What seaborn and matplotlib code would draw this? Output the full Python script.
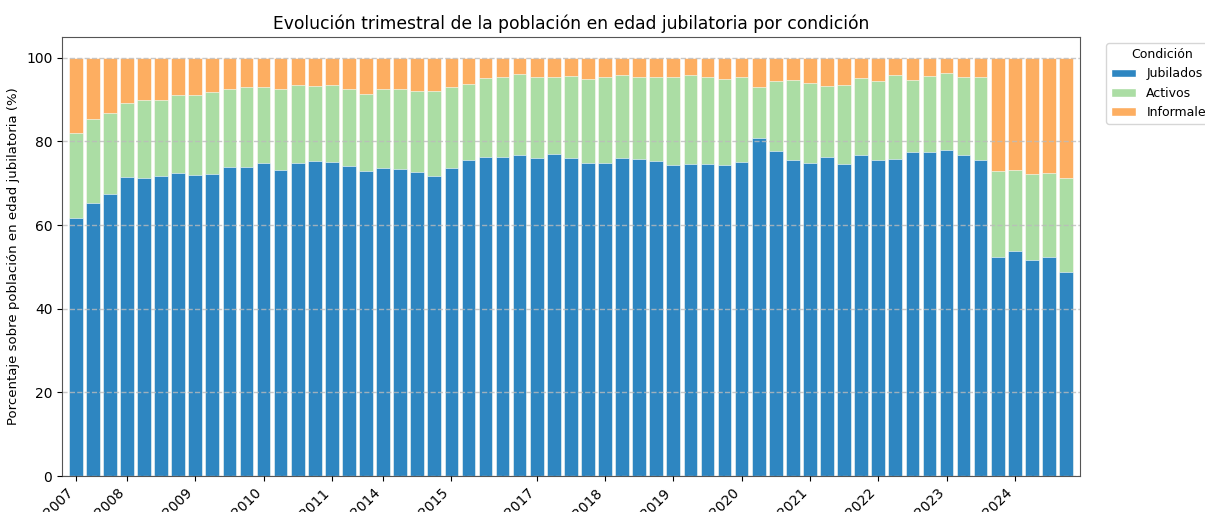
import numpy as np
import pandas as pd
import seaborn as sns
import matplotlib.pyplot as plt
from matplotlib.patches import Patch

# Periodos (un trimestre por barra)
anios = ([2007] * 3 + [2008] * 4 + [2009] * 4 + [2010] * 4 + [2011] * 3 +
         [2014] * 4 + [2015] * 2 + [2016] * 3 + [2017] * 4 + [2018] * 4 +
         [2019] * 4 + [2020] * 4 + [2021] * 4 + [2022] * 4 + [2023] * 4 + [2024] * 4)
trimestres = ([1, 2, 4] + [1, 2, 3, 4] * 3 + [1, 2, 3] + [1, 2, 3, 4] + [1, 2] + [2, 3, 4] +
              [1, 2, 3, 4] * 8)

# Años que llevan etiqueta en el eje
anios_eje = [2007, 2008, 2009, 2010, 2011, 2014, 2015, 2017, 2018, 2019, 2020, 2021, 2022, 2023, 2024]

# Porcentajes por condición
jubilados = [61.7, 65.4, 67.5, 71.4, 71.3, 71.7, 72.5, 72.1, 72.3, 73.9, 73.9, 74.8, 73.1, 74.9, 75.4,
             75.2, 74.1, 72.9, 73.7, 73.3, 72.7, 71.7, 73.7, 75.6, 76.4, 76.4, 76.8, 76.0, 76.9, 76.0,
             74.8, 74.8, 76.0, 75.8, 75.4, 74.4, 74.5, 74.5, 74.4, 75.2, 80.8, 77.8, 75.6, 74.8, 76.2,
             74.5, 76.8, 75.6, 75.8, 77.5, 77.5, 77.9, 76.7, 75.6, 52.4, 53.7, 51.7, 52.4, 48.9]
jub_mas_activos = [82.0, 85.3, 86.7, 89.1, 89.9, 89.8, 91.2, 91.2, 91.8, 92.6, 92.9, 93.1, 92.6, 93.6, 93.3,
                   93.6, 92.6, 91.4, 92.6, 92.5, 92.0, 92.1, 93.1, 93.8, 95.1, 95.5, 96.1, 95.5, 95.5, 95.7,
                   94.9, 95.5, 95.8, 95.5, 95.3, 95.3, 95.8, 95.3, 94.9, 95.3, 93.1, 94.4, 94.8, 93.9, 93.3,
                   93.5, 95.1, 94.4, 95.8, 94.8, 95.6, 96.3, 95.3, 95.3, 73.0, 73.1, 72.2, 72.5, 71.3]
activos = list(np.round(np.array(jub_mas_activos) - np.array(jubilados), 1))
informales = list(np.round(100 - np.array(jub_mas_activos), 1))

colores = {"Jubilados": "#2e86c1", "Activos": "#abdda4", "Informales": "#fdae61"}

periodos = [f"{a}-T{t}" for a, t in zip(anios, trimestres)]
df = pd.DataFrame({
    "periodo": periodos,
    "anio": anios,
    "Jubilados": jubilados,
    "Activos": activos,
    "Informales": informales,
})
df["tope_activos"] = df["Jubilados"] + df["Activos"]
df["tope_informales"] = df["tope_activos"] + df["Informales"]

sns.set_style("ticks", rc={"text.color": "black", "axes.labelcolor": "black",
                           "xtick.color": "black", "ytick.color": "black"})
plt.rcParams["font.family"] = ["DejaVu Sans"]

fig, ax = plt.subplots(figsize=(12.05, 5.12), dpi=100)
fig.subplots_adjust(left=0.0515, right=0.896, bottom=0.07, top=0.928)

# barras apiladas: se dibujan los acumulados de mayor a menor
for col, nombre in [("tope_informales", "Informales"), ("tope_activos", "Activos"), ("Jubilados", "Jubilados")]:
    sns.barplot(data=df, x="periodo", y=col, color=colores[nombre], saturation=1,
                width=0.8, edgecolor="white", linewidth=0.4, ax=ax)

ax.set_xlim(-0.5 - 0.3, len(df) - 0.5 + 0.3)
ax.set_ylim(0, 105)
ax.set_yticks([0, 20, 40, 60, 80, 100])
ax.grid(axis="y", linestyle="--", color="#bbbbbb", alpha=0.8, linewidth=1)
ax.set_axisbelow(False)

pos_ticks = [df.index[df["anio"] == a][0] for a in anios_eje]
ax.set_xticks(pos_ticks)
ax.set_xticklabels([str(a) for a in anios_eje], rotation=45, ha="right", fontsize=10)
ax.tick_params(axis="both", labelsize=10, colors="black")

for s in ax.spines.values():
    s.set_visible(True)
    s.set_color("#555555")

ax.set_xlabel("")
ax.set_ylabel("Porcentaje sobre población en edad jubilatoria (%)", fontsize=9.5)
ax.set_title("Evolución trimestral de la población en edad jubilatoria por condición", fontsize=12.3)

handles = [Patch(facecolor=colores[k], label=k) for k in ["Jubilados", "Activos", "Informales"]]
ax.legend(handles=handles, title="Condición", loc="upper left", bbox_to_anchor=(1.02, 1),
          fontsize=9, title_fontsize=9)

fig.savefig("out.png", dpi=100)
